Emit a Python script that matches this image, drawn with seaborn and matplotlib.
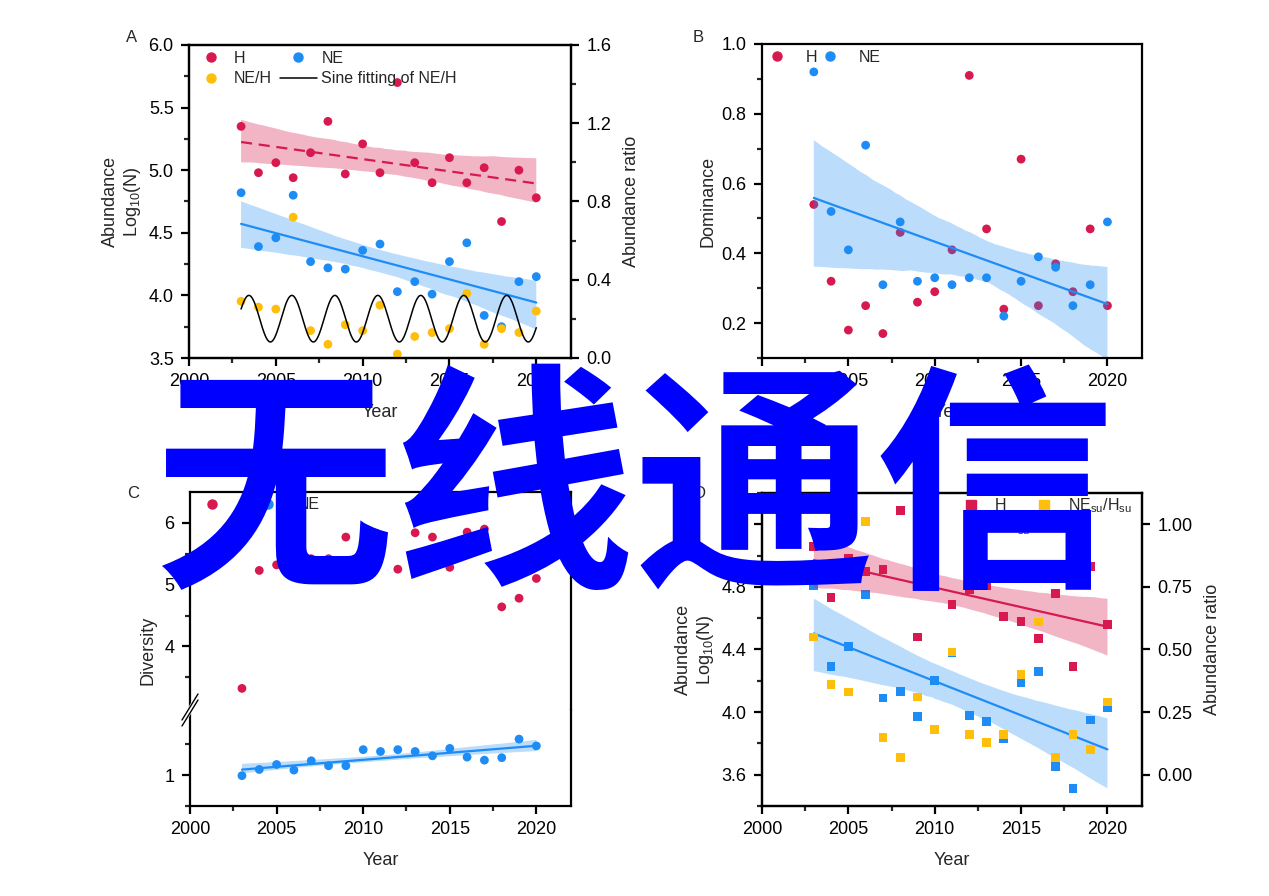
import matplotlib
matplotlib.use("Agg")
import matplotlib.pyplot as plt
import seaborn as sns
import numpy as np
from matplotlib.ticker import MultipleLocator, FormatStrFormatter
from matplotlib.lines import Line2D

sns.set_style("ticks")
plt.rcParams["font.family"] = ["Liberation Sans", "DejaVu Sans"]
plt.rcParams["mathtext.fontset"] = "custom"
plt.rcParams["mathtext.rm"] = "Liberation Sans"
plt.rcParams["mathtext.it"] = "Liberation Sans:italic"

years = list(range(2003, 2021))

# panel A: abundance (log10) and NE/H ratio
a_h = [5.35, 4.98, 5.06, 4.94, 5.14, 5.39, 4.97, 5.21, 4.98, 5.70, 5.06, 4.90, 5.10, 4.90, 5.02, 4.59, 5.00, 4.78]
a_ne = [4.82, 4.39, 4.46, 4.80, 4.27, 4.22, 4.21, 4.36, 4.41, 4.03, 4.11, 4.01, 4.27, 4.42, 3.84, 3.75, 4.11, 4.15]
a_ratio = [0.29, 0.26, 0.25, 0.72, 0.14, 0.07, 0.17, 0.14, 0.27, 0.02, 0.11, 0.13, 0.15, 0.33, 0.07, 0.15, 0.13, 0.24]
# sine fit parameters
sine_y0, sine_amp, sine_period, sine_peak = 0.201, 0.119, 2.475, 2003.45

# panel B: dominance
b_h = [0.54, 0.32, 0.18, 0.25, 0.17, 0.46, 0.26, 0.29, 0.41, 0.91, 0.47, 0.24, 0.67, 0.25, 0.37, 0.29, 0.47, 0.25]
b_ne = [0.92, 0.52, 0.41, 0.71, 0.31, 0.49, 0.32, 0.33, 0.31, 0.33, 0.33, 0.22, 0.32, 0.39, 0.36, 0.25, 0.31, 0.49]

# panel C: diversity
c_h = [3.32, 5.23, 5.32, 5.35, 5.42, 5.42, 5.77, 5.60, 5.50, 5.25, 5.84, 5.77, 5.28, 5.85, 5.90, 4.64, 4.78, 5.10]
c_ne = [0.99, 1.09, 1.17, 1.08, 1.23, 1.15, 1.15, 1.41, 1.38, 1.41, 1.38, 1.31, 1.43, 1.29, 1.24, 1.28, 1.58, 1.47]

# panel D: summer abundance and ratio
d_h = [5.06, 4.73, 4.98, 4.90, 4.91, 5.29, 4.48, 4.82, 4.69, 4.78, 4.81, 4.61, 4.58, 4.47, 4.76, 4.29, 4.93, 4.56]
d_ne = [4.81, 4.29, 4.42, 4.75, 4.09, 4.13, 3.97, 4.20, 4.38, 3.98, 3.94, 3.83, 4.19, 4.26, 3.65, 3.51, 3.95, 4.03]
d_ratio = [0.55, 0.36, 0.33, 1.01, 0.15, 0.07, 0.31, 0.18, 0.49, 0.16, 0.13, 0.16, 0.40, 0.61, 0.07, 0.16, 0.10, 0.29]

RED = "#D7194F"
BLUE = "#1E8CF5"
YELLOW = "#FFBE0A"
FS = 13
LFS = 11.5
W, H = 1269, 896


def style(ax):
    for s in ax.spines.values():
        s.set_linewidth(1.6)
        s.set_color("black")
    ax.tick_params(which="major", direction="out", length=6, width=1.6, labelsize=FS,
                   colors="black", pad=5)
    ax.tick_params(which="minor", direction="out", length=3.5, width=1.6)
    ax.set_xlim(2000, 2022)
    ax.xaxis.set_major_locator(MultipleLocator(5))
    ax.xaxis.set_minor_locator(MultipleLocator(2.5))


def fit(ax, y, color, ls="-", alpha=0.3):
    sns.regplot(x=years, y=y, ax=ax, scatter=False, color=color, seed=3,
                line_kws={"lw": 1.6, "ls": ls})
    band = ax.collections[-1]
    band.set_facecolor(color)
    band.set_alpha(alpha)
    band.set_edgecolor("none")


def rect(l, t, r, b):
    return [l / W, 1 - b / H, (r - l) / W, (b - t) / H]


def dot(color, label, marker="o"):
    return Line2D([], [], marker=marker, ls="", color=color, markersize=6.5, label=label)


fig = plt.figure(figsize=(12.69, 8.96), dpi=100)

# ---------- A ----------
axA = fig.add_axes(rect(189, 45, 571, 358))
style(axA)
sns.scatterplot(x=years, y=a_h, ax=axA, color=RED, s=40, edgecolor="none")
sns.scatterplot(x=years, y=a_ne, ax=axA, color=BLUE, s=40, edgecolor="none")
fit(axA, a_h, RED, ls=(0, (5, 3)), alpha=0.32)
fit(axA, a_ne, BLUE)
axA.set_ylim(3.5, 6.0)
axA.yaxis.set_major_locator(MultipleLocator(0.5))
axA.yaxis.set_minor_locator(MultipleLocator(0.25))
axA.yaxis.set_major_formatter(FormatStrFormatter("%.1f"))
axA.set_xlabel("Year", fontsize=FS, labelpad=10)
axA.set_ylabel("Abundance\nLog$_{10}$(N)", fontsize=FS)

axA2 = axA.twinx()
style(axA2)
sns.scatterplot(x=years, y=a_ratio, ax=axA2, color=YELLOW, s=40, edgecolor="none")
sine_x = np.linspace(years[0], years[-1], 500)
sine_y = sine_y0 + sine_amp * np.cos(2 * np.pi * (sine_x - sine_peak) / sine_period)
sns.lineplot(x=sine_x, y=sine_y, ax=axA2, color="black", lw=1.1)
axA2.set_ylim(0, 1.6)
axA2.yaxis.set_major_locator(MultipleLocator(0.4))
axA2.yaxis.set_minor_locator(MultipleLocator(0.2))
axA2.yaxis.set_major_formatter(FormatStrFormatter("%.1f"))
axA2.set_ylabel("Abundance ratio", fontsize=FS, labelpad=8)
handlesA = [dot(RED, "H"), dot(YELLOW, "NE/H"), dot(BLUE, "NE"),
            Line2D([], [], color="black", lw=1.1, label="Sine fitting of NE/H")]
axA2.legend(handles=handlesA, ncol=2, loc="upper left", bbox_to_anchor=(0.009, 0.982),
            frameon=False, fontsize=LFS, handlelength=2.3, handletextpad=0.3,
            columnspacing=0.5, labelspacing=0.35, borderpad=0, borderaxespad=0)

# ---------- B ----------
axB = fig.add_axes(rect(762, 44, 1142, 358))
style(axB)
sns.scatterplot(x=years, y=b_h, ax=axB, color=RED, s=40, edgecolor="none")
sns.scatterplot(x=years, y=b_ne, ax=axB, color=BLUE, s=40, edgecolor="none")
fit(axB, b_ne, BLUE)
axB.set_ylim(0.1, 1.0)
axB.yaxis.set_major_locator(MultipleLocator(0.2))
axB.yaxis.set_minor_locator(MultipleLocator(0.1))
axB.yaxis.set_major_formatter(FormatStrFormatter("%.1f"))
axB.set_xlabel("Year", fontsize=FS, labelpad=10)
axB.set_ylabel("Dominance", fontsize=FS)
axB.legend(handles=[dot(RED, "H"), dot(BLUE, "NE")], ncol=2, loc="upper left",
           bbox_to_anchor=(0.009, 0.982), frameon=False, fontsize=LFS, handlelength=1.5,
           handletextpad=1.0, columnspacing=0.1, borderpad=0, borderaxespad=0)

# ---------- C (broken axis) ----------
axCt = fig.add_axes(rect(190, 492, 571, 710))
axCb = fig.add_axes(rect(190, 710, 571, 806))
for ax in (axCt, axCb):
    style(ax)
axCt.spines["bottom"].set_visible(False)
axCb.spines["top"].set_visible(False)
axCt.tick_params(axis="x", which="both", bottom=False, labelbottom=False)
sns.scatterplot(x=years, y=c_h, ax=axCt, color=RED, s=40, edgecolor="none")
sns.scatterplot(x=years, y=c_ne, ax=axCb, color=BLUE, s=40, edgecolor="none")
fit(axCb, c_ne, BLUE)
axCt.set_ylim(2.97, 6.5)
axCt.set_yticks([4, 5, 6])
axCt.set_yticks([3.5, 4.5, 5.5], minor=True)
axCb.set_ylim(0.5, 2.05)
axCb.set_yticks([1])
axCb.set_yticks([0.5, 1.5], minor=True)
axCb.set_xlabel("Year", fontsize=FS, labelpad=10)
axCt.set_ylabel("")
axCb.set_ylabel("")
fig.text(148 / W, 1 - 650 / H, "Diversity", rotation=90, ha="center", va="center", fontsize=FS)
axCt.legend(handles=[dot(RED, "H"), dot(BLUE, "NE")], ncol=2, loc="upper left",
            bbox_to_anchor=(0.026, 0.976), frameon=False, fontsize=LFS, handlelength=1.5,
            handletextpad=1.1, columnspacing=0.2, borderpad=0, borderaxespad=0)
# break marks on the left spine
bx, by = 190, 710
fig.add_artist(Line2D([(bx - 6) / W, (bx + 6) / W], [1 - (by + 10) / H, 1 - (by - 10) / H],
                      color="white", lw=4, transform=fig.transFigure))
for dy in (-3, 3):
    fig.add_artist(Line2D([(bx - 8) / W, (bx + 8) / W],
                          [1 - (by + dy + 13) / H, 1 - (by + dy - 13) / H],
                          color="black", lw=1.0, transform=fig.transFigure))

# ---------- D ----------
axD = fig.add_axes(rect(762, 493, 1142, 806))
style(axD)
sns.scatterplot(x=years, y=d_h, ax=axD, color=RED, s=40, marker="s", edgecolor="none")
sns.scatterplot(x=years, y=d_ne, ax=axD, color=BLUE, s=40, marker="s", edgecolor="none")
fit(axD, d_h, RED, alpha=0.32)
fit(axD, d_ne, BLUE)
axD.set_ylim(3.4, 5.4)
axD.yaxis.set_minor_locator(MultipleLocator(0.2))
axD.set_yticks([3.6, 4.0, 4.4, 4.8, 5.2])
axD.yaxis.set_major_formatter(FormatStrFormatter("%.1f"))
axD.set_xlabel("Year", fontsize=FS, labelpad=10)
axD.set_ylabel("Abundance\nLog$_{10}$(N)", fontsize=FS)

axD2 = axD.twinx()
style(axD2)
sns.scatterplot(x=years, y=d_ratio, ax=axD2, color=YELLOW, s=40, marker="s", edgecolor="none")
axD2.set_ylim(-0.125, 1.125)
axD2.set_yticks([0, 0.25, 0.5, 0.75, 1.0])
axD2.yaxis.set_minor_locator(plt.NullLocator())
axD2.yaxis.set_major_formatter(FormatStrFormatter("%.2f"))
axD2.set_ylabel("Abundance ratio", fontsize=FS, labelpad=8)
handlesD = [dot(RED, "H", "s"), dot(BLUE, "NE$_{\\rm su}$", "s"),
            dot(YELLOW, "NE$_{\\rm su}$/H$_{\\rm su}$", "s")]
axD2.legend(handles=handlesD, ncol=2, loc="upper left", bbox_to_anchor=(0.518, 0.99),
            frameon=False, fontsize=LFS, handlelength=1.5, handletextpad=0.75,
            columnspacing=0.1, labelspacing=0.3, borderpad=0, borderaxespad=0)

# panel letters
for letter, px, py in [("A", 132, 38), ("B", 698, 38), ("C", 133, 493), ("D", 700, 493)]:
    fig.text(px / W, 1 - py / H, letter, fontsize=12, ha="center", va="center")

# overlay banner text
fig.text(0.5, 0.443, "无线通信", fontsize=173, color="#0000FF", fontweight="bold",
         family=["Noto Sans CJK SC", "DejaVu Sans"], ha="center", va="center", zorder=100)

fig.savefig("out.png", dpi=100)
